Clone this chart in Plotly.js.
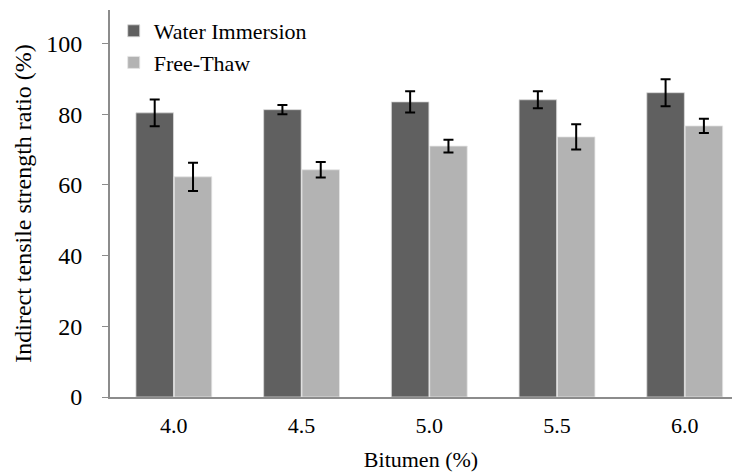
<!DOCTYPE html>
<html>
<head>
<meta charset="utf-8">
<script src="https://cdn.plot.ly/plotly-3.0.1.min.js"></script>
<style>html,body{margin:0;padding:0;background:#fff;}#chart{width:732px;height:473px;}</style>
</head>
<body>
<div id="chart"></div>
<script>
const categories = ["4.0", "4.5", "5.0", "5.5", "6.0"];
const waterImmersion = [80.4, 81.3, 83.5, 84.1, 86.1];
const waterImmersionErr = [3.8, 1.3, 3.0, 2.4, 3.8];
const freezeThaw = [62.3, 64.3, 71.0, 73.6, 76.7];
const freezeThawErr = [4.0, 2.2, 1.8, 3.6, 2.0];
const seriesNames = ["Water Immersion", "Free-Thaw"];

const font = {family: "Liberation Serif, Times New Roman, serif", color: "#000"};

const traces = [
  {
    type: "bar", name: seriesNames[0], x: categories, y: waterImmersion,
    marker: {color: "#606060", line: {color: "#d9d9d9", width: 0.8}},
    error_y: {type: "data", array: waterImmersionErr, visible: true, color: "#000", thickness: 2, width: 5}
  },
  {
    type: "bar", name: seriesNames[1], x: categories, y: freezeThaw,
    marker: {color: "#b3b3b3", line: {color: "#e6e6e6", width: 0.8}},
    error_y: {type: "data", array: freezeThawErr, visible: true, color: "#000", thickness: 2, width: 5}
  }
];

const layout = {
  width: 732, height: 473,
  margin: {l: 110, r: 0, t: 10, b: 76},
  paper_bgcolor: "#fff", plot_bgcolor: "#fff",
  font: Object.assign({size: 22}, font),
  barmode: "group", bargap: 0.4, bargroupgap: 0.02,
  showlegend: true,
  legend: {x: 0.006, y: 1.0, xanchor: "left", yanchor: "top", bgcolor: "rgba(0,0,0,0)",
           font: Object.assign({size: 22}, font), itemwidth: 30, tracegroupgap: 0},
  xaxis: {
    type: "category", range: [-0.5, 4.37],
    showline: true, linecolor: "#8c8c8c", linewidth: 2, ticks: "", showgrid: false,
    tickfont: Object.assign({size: 22}, font), ticklabelstandoff: 8,
    title: {text: "Bitumen (%)", font: Object.assign({size: 22}, font), standoff: 14}
  },
  yaxis: {
    range: [0, 109.5], dtick: 20, tick0: 0,
    showline: true, linecolor: "#8c8c8c", linewidth: 2, ticks: "outside", ticklen: 6, tickcolor: "#8c8c8c", tickwidth: 1,
    showgrid: false, zeroline: false,
    tickfont: Object.assign({size: 24}, font), ticklabelstandoff: 15,
    title: {text: "Indirect tensile strength ratio (%)", font: Object.assign({size: 24}, font), standoff: 8}
  }
};

Plotly.newPlot("chart", traces, layout, {displayModeBar: false, staticPlot: true});
</script>
</body>
</html>
